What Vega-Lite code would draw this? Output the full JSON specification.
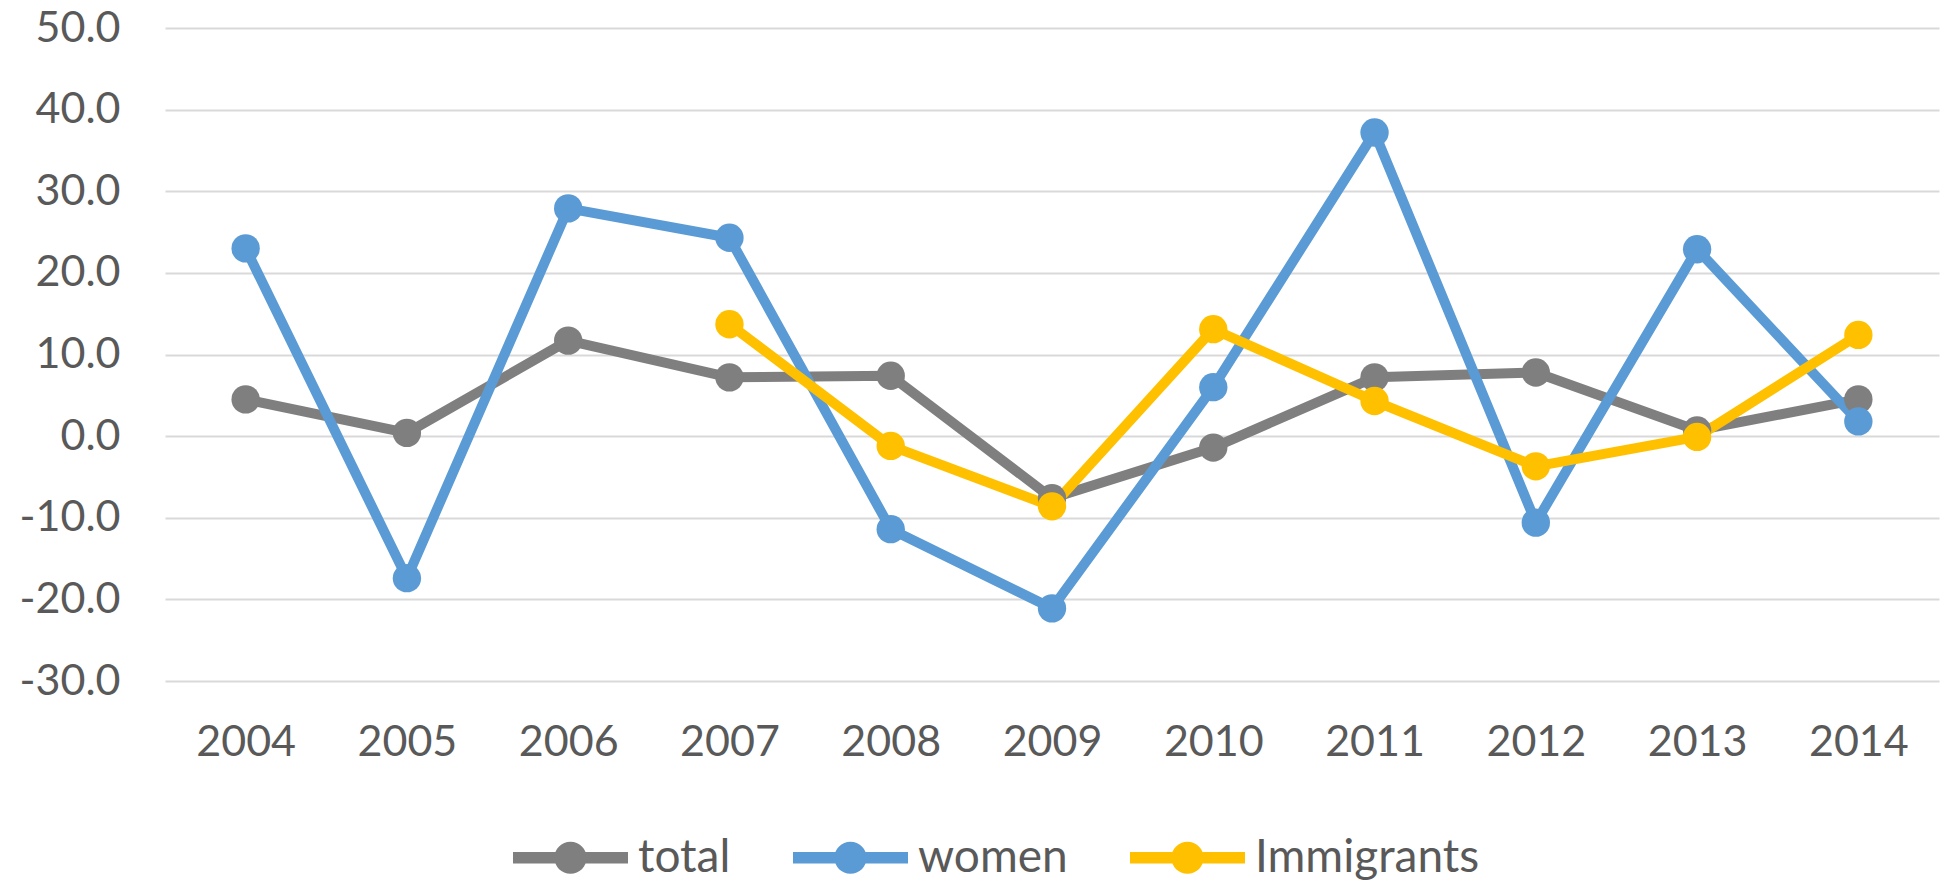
{
  "$schema": "https://vega.github.io/schema/vega-lite/v6.json",
  "width": 1774,
  "height": 653,
  "autosize": "none",
  "padding": {"left": 165, "top": 28, "right": 10, "bottom": 200},
  "background": "white",
  "data": {
    "values": [
      {"year": "2004", "series": "total", "value": 4.5},
      {"year": "2005", "series": "total", "value": 0.4},
      {"year": "2006", "series": "total", "value": 11.7},
      {"year": "2007", "series": "total", "value": 7.2},
      {"year": "2008", "series": "total", "value": 7.4},
      {"year": "2009", "series": "total", "value": -7.6},
      {"year": "2010", "series": "total", "value": -1.4},
      {"year": "2011", "series": "total", "value": 7.2},
      {"year": "2012", "series": "total", "value": 7.8},
      {"year": "2013", "series": "total", "value": 0.7},
      {"year": "2014", "series": "total", "value": 4.5},
      {"year": "2004", "series": "women", "value": 23.0},
      {"year": "2005", "series": "women", "value": -17.4},
      {"year": "2006", "series": "women", "value": 27.9},
      {"year": "2007", "series": "women", "value": 24.3},
      {"year": "2008", "series": "women", "value": -11.4},
      {"year": "2009", "series": "women", "value": -21.1},
      {"year": "2010", "series": "women", "value": 6.0},
      {"year": "2011", "series": "women", "value": 37.2},
      {"year": "2012", "series": "women", "value": -10.6},
      {"year": "2013", "series": "women", "value": 22.9},
      {"year": "2014", "series": "women", "value": 1.8},
      {"year": "2007", "series": "Immigrants", "value": 13.7},
      {"year": "2008", "series": "Immigrants", "value": -1.2},
      {"year": "2009", "series": "Immigrants", "value": -8.6},
      {"year": "2010", "series": "Immigrants", "value": 13.1},
      {"year": "2011", "series": "Immigrants", "value": 4.3},
      {"year": "2012", "series": "Immigrants", "value": -3.7},
      {"year": "2013", "series": "Immigrants", "value": -0.1},
      {"year": "2014", "series": "Immigrants", "value": 12.4}
    ]
  },
  "encoding": {
    "x": {
      "field": "year",
      "type": "ordinal",
      "scale": {"type": "point", "padding": 0.5},
      "axis": {
        "title": null,
        "domain": false,
        "ticks": false,
        "grid": false,
        "labelAngle": 0,
        "labelPadding": 40,
        "labelFont": "Lato",
        "labelFontSize": 43,
        "labelColor": "#595959"
      }
    },
    "y": {
      "field": "value",
      "type": "quantitative",
      "scale": {"domain": [-30, 50], "nice": false, "zero": false},
      "axis": {
        "title": null,
        "values": [-30, -20, -10, 0, 10, 20, 30, 40, 50],
        "format": ".1f",
        "domain": false,
        "ticks": false,
        "grid": true,
        "gridColor": "#D9D9D9",
        "gridWidth": 2,
        "labelPadding": 45,
        "labelFont": "Lato",
        "labelFontSize": 43,
        "labelColor": "#595959"
      }
    },
    "color": {
      "field": "series",
      "type": "nominal",
      "sort": ["total", "women", "Immigrants"],
      "scale": {"domain": ["total", "women", "Immigrants"], "range": ["#7F7F7F", "#5B9BD5", "#FFC000"]},
      "legend": {
        "title": null,
        "orient": "none",
        "direction": "horizontal",
        "legendX": 348,
        "legendY": 772,
        "symbolType": "M-1,-0.1L1,-0.1L1,0.1L-1,0.1Z M0.28,0A0.28,0.28,0,1,1,-0.28,0A0.28,0.28,0,1,1,0.28,0Z",
        "symbolSize": 13225,
        "symbolStrokeWidth": 0,
        "symbolOpacity": 1,
        "labelOffset": 10,
        "columnPadding": 62,
        "labelFont": "Lato",
        "labelFontSize": 46,
        "labelColor": "#595959",
        "labelLimit": 500
      }
    }
  },
  "layer": [
    {"mark": {"type": "line", "strokeWidth": 10, "strokeJoin": "round"}},
    {"mark": {"type": "point", "filled": true, "shape": "circle", "size": 804, "opacity": 1}}
  ],
  "config": {
    "view": {"stroke": null},
    "locale": {
      "number": {"decimal": ".", "thousands": ",", "grouping": [3], "currency": ["$", ""], "minus": "-"}
    }
  }
}
